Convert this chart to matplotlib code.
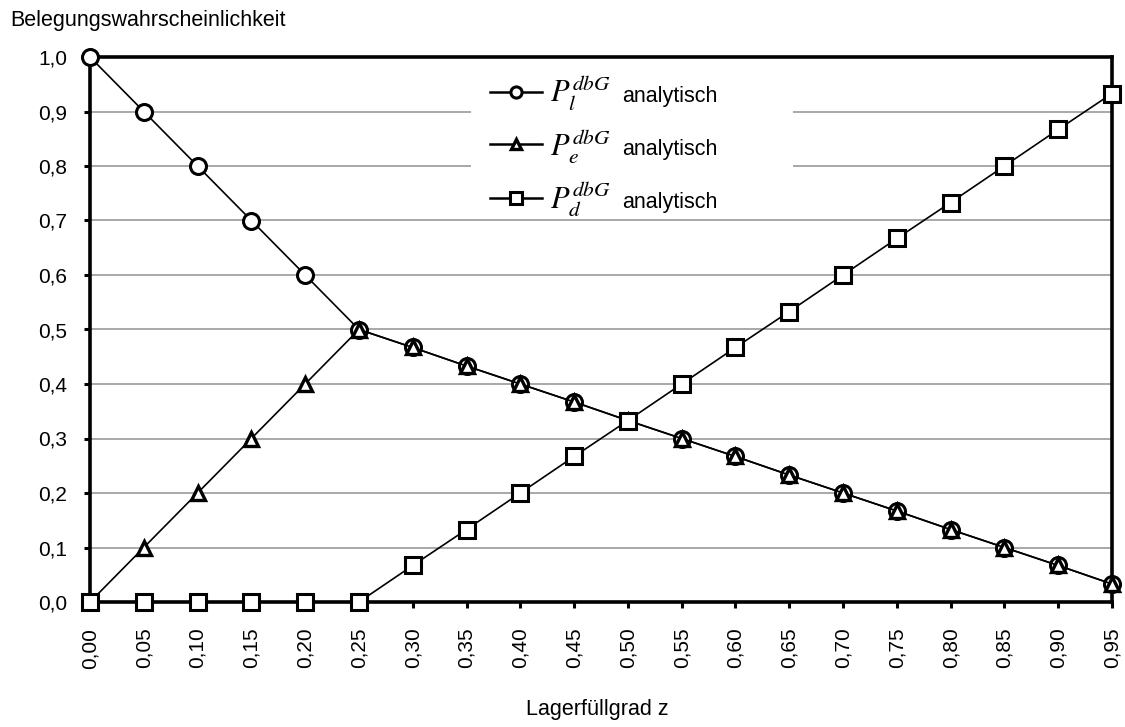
import numpy as np
import matplotlib
matplotlib.use("Agg")
import matplotlib.pyplot as plt
from matplotlib.ticker import FuncFormatter, MultipleLocator
from matplotlib.patches import Rectangle

plt.rcParams['font.family'] = ['Liberation Sans', 'DejaVu Sans']
plt.rcParams['mathtext.fontset'] = 'stix'

# Lagerfüllgrad z
z = [0.00, 0.05, 0.10, 0.15, 0.20, 0.25, 0.30, 0.35, 0.40, 0.45,
     0.50, 0.55, 0.60, 0.65, 0.70, 0.75, 0.80, 0.85, 0.90, 0.95]
p_l = [1.000, 0.900, 0.800, 0.700, 0.600, 0.500, 0.467, 0.433, 0.400, 0.367,
       0.333, 0.300, 0.267, 0.233, 0.200, 0.167, 0.133, 0.100, 0.067, 0.033]
p_e = [0.000, 0.100, 0.200, 0.300, 0.400, 0.500, 0.467, 0.433, 0.400, 0.367,
       0.333, 0.300, 0.267, 0.233, 0.200, 0.167, 0.133, 0.100, 0.067, 0.033]
p_d = [0.000, 0.000, 0.000, 0.000, 0.000, 0.000, 0.067, 0.133, 0.200, 0.267,
       0.333, 0.400, 0.467, 0.533, 0.600, 0.667, 0.733, 0.800, 0.867, 0.933]
labels = [r'$P_l^{dbG}$', r'$P_e^{dbG}$', r'$P_d^{dbG}$']

W, H = 1125, 727
# plot area in pixels: left, right, top, bottom
L, R, T, B = 90, 1112, 57, 602
fig = plt.figure(figsize=(W / 100, H / 100), dpi=100)
ax = fig.add_axes([L / W, 1 - B / H, (R - L) / W, (B - T) / H])

style = dict(color='black', linewidth=1.2, markerfacecolor='white',
             markeredgecolor='black', clip_on=False)
h1, = ax.plot(z, p_l, marker='o', markersize=11.5, markeredgewidth=2.2, zorder=3, **style)
h2, = ax.plot(z, p_e, marker='^', markersize=10, markeredgewidth=2.4, zorder=4, **style)
h3, = ax.plot(z, p_d, marker='s', markersize=11.5, markeredgewidth=2.2, zorder=5, **style)

ax.set_xlim(0, 0.95)
ax.set_ylim(0, 1.0)
ax.set_xticks(z)
ax.yaxis.set_major_locator(MultipleLocator(0.1))
ax.xaxis.set_major_formatter(FuncFormatter(lambda v, p: f"{v:.2f}".replace('.', ',')))
ax.yaxis.set_major_formatter(FuncFormatter(lambda v, p: f"{v:.1f}".replace('.', ',')))
ax.tick_params(axis='x', rotation=90, length=4.5, width=2.2, pad=14, labelsize=15)
ax.tick_params(axis='y', length=4.5, width=2.2, pad=12, labelsize=15)
ax.grid(axis='y', color='#999999', linewidth=1.2)
ax.set_axisbelow(True)
for s in ax.spines.values():
    s.set_linewidth(2.6)

# white area behind the legend, hides the grid lines there
ax.add_patch(Rectangle(((471 - L) / (R - L), (B - 218) / (B - T)),
                       (793 - 471) / (R - L), (218 - 60) / (B - T),
                       transform=ax.transAxes, facecolor='white', edgecolor='none', zorder=1.5))

leg = ax.legend([h1, h2, h3], labels, loc='upper left',
                bbox_to_anchor=((490 - L) / (R - L), (B - 73) / (B - T)), frameon=False,
                fontsize=22, handlelength=1.7, handletextpad=0.25, labelspacing=0.42,
                borderpad=0, borderaxespad=0, markerscale=0.7)
for line in leg.get_lines():
    line.set_linewidth(1.8)

fig.canvas.draw()
for t in leg.get_texts():
    bb = t.get_window_extent()
    fig.text((bb.x1 + 12) / W, (bb.y0 + 11) / H, 'analytisch',
             fontsize=15.5, va='baseline', ha='left', zorder=10)

fig.text(0.009, 0.972, 'Belegungswahrscheinlichkeit', fontsize=15.5, va='center', ha='left')
fig.text(0.531, 0.024, 'Lagerfüllgrad z', fontsize=15.5, va='center', ha='center')

fig.savefig('out.png', dpi=100)
